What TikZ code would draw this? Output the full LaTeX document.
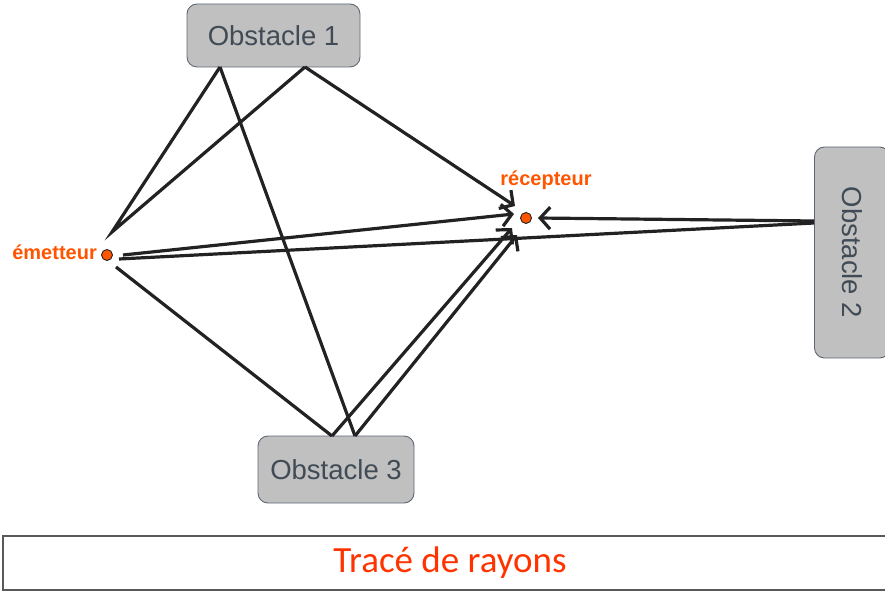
\documentclass[tikz,border=0pt]{standalone}
\usepackage{fontspec}
\setmainfont{Liberation Sans}
\newfontfamily\calib{Carlito}
\usetikzlibrary{arrows.meta}
\definecolor{obsfill}{HTML}{C0C0C0}
\definecolor{obsdraw}{HTML}{5E6873}
\definecolor{obstext}{HTML}{414B56}
\definecolor{orng}{HTML}{FF5500}
\definecolor{ray}{HTML}{222222}
\definecolor{titlered}{HTML}{FF3300}
\tikzset{
  obstacle/.style={draw=obsdraw, line width=0.9pt, fill=obsfill, rounded corners=10pt,
    text=obstext, font=\fontsize{27.5}{30}\selectfont, inner sep=0pt, anchor=center},
  dotnode/.style={circle, draw=ray, line width=0.9pt, fill=orng, minimum size=11pt, inner sep=0pt},
  dotlabel/.style={text=orng, font=\fontsize{20}{22}\selectfont\bfseries, inner sep=0pt},
  rayline/.style={draw=ray, line width=3.2pt},
  rayarrow/.style={rayline, -{Straight Barb[length=10pt,width=22pt]}},
}
\begin{document}
\begin{tikzpicture}[x=1pt,y=-1pt]
\useasboundingbox (0,0) rectangle (885,593);
\begin{scope}
\clip (0,0) rectangle (885,593);
% obstacles
\node[obstacle, minimum width=173pt, minimum height=63pt] (o1) at (273.5,35.5) {Obstacle 1};
\node[obstacle, minimum width=75pt, minimum height=211pt] (o2) at (852,252.5) {};
\node[text=obstext, font=\fontsize{27.5}{30}\selectfont, rotate=-90, inner sep=0pt] (o2t) at (o2.center) {Obstacle 2};
\node[obstacle, minimum width=156pt, minimum height=67pt] (o3) at (336,469.5) {Obstacle 3};
% bottom title box
\node[draw=black!65, line width=1.3pt, minimum width=894pt, minimum height=54pt, inner sep=0pt,
  text=titlered, font=\calib\fontsize{37}{40}\selectfont] (title) at (450,563) {Tracé de rayons};
\end{scope}
% emitter and receiver
\node[dotnode] (em) at (107,255) {};
\node[dotlabel, anchor=east] (eml) at (97,252) {émetteur};
\node[dotnode] (rc) at (526,218) {};
\node[dotlabel, anchor=south] (rcl) at (546,190) {récepteur};
% ray coordinates
\coordinate (eA) at (112,232);
\coordinate (eB) at (123,255);
\coordinate (eC) at (119,259);
\coordinate (eD) at (116,267);
\coordinate (o1a) at (220,67);
\coordinate (o1b) at (305,67);
\coordinate (o2a) at (814,223);
\coordinate (o2b) at (814,221);
\coordinate (o3a) at (332,436);
\coordinate (o3b) at (355,436);
\coordinate (r1) at (515,206);
\coordinate (r2) at (514,214);
\coordinate (r3) at (538,218);
\coordinate (r4) at (512,228);
\coordinate (r5) at (517,235);
% rays
\draw[rayline] (o1a) -- (eA) -- (o1b);
\draw[rayline] (o1a) -- (o3b);
\draw[rayarrow] (o1b) -- (r1);
\draw[rayarrow] (eB) -- (r2);
\draw[rayline] (eC) -- (o2a);
\draw[rayarrow] (o2b) -- (r3);
\draw[rayline] (eD) -- (o3a);
\draw[rayarrow] (o3a) -- (r4);
\draw[rayarrow] (o3b) -- (r5);
\end{tikzpicture}
\end{document}
